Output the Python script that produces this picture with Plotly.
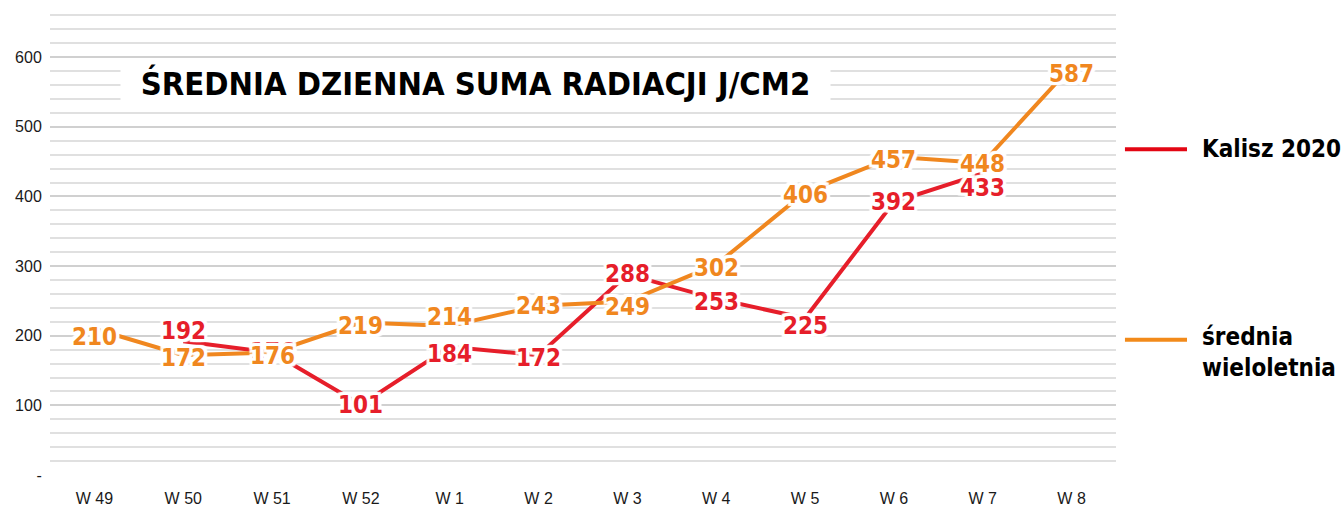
import plotly.graph_objects as go

weeks = ["W 49", "W 50", "W 51", "W 52", "W 1", "W 2", "W 3", "W 4", "W 5", "W 6", "W 7", "W 8"]
kalisz = [None, 192, 176, 101, 184, 172, 288, 253, 225, 392, 433, None]
srednia = [210, 172, 176, 219, 214, 243, 249, 302, 406, 457, 448, 587]
ytick_vals = [0, 100, 200, 300, 400, 500, 600]
ytick_text = ["-", "100", "200", "300", "400", "500", "600"]

# label nudges in pixels (positive = downwards), purely presentational
kalisz_nudge = [0, -10, 0, 0, 7, 3, 0, 3, 8, 0, 15, 0]
srednia_nudge = [8, 3, 4, 4, -9, 0, 5, 3, 3, 3, 1, 8]

RED = "#E61E2A"
ORANGE = "#F0871F"
COND = "DejaVu Sans Condensed, Liberation Sans Narrow, Roboto, sans-serif"
halo = ", ".join(f"{dx}px {dy}px 1px white" for dx in (-3, 0, 3) for dy in (-3, 0, 3)) + ", 0 0 4px white"

fig = go.Figure()
fig.add_trace(go.Scatter(x=weeks, y=kalisz, mode="lines", line=dict(color=RED, width=4),
                         connectgaps=False, showlegend=False, hoverinfo="skip"))
fig.add_trace(go.Scatter(x=weeks, y=srednia, mode="lines", line=dict(color=ORANGE, width=4),
                         showlegend=False, hoverinfo="skip"))

def add_labels(vals, nudges, color):
    for wk, v, n in zip(weeks, vals, nudges):
        if v is None:
            continue
        fig.add_annotation(x=wk, y=v, text=f"<b>{v}</b>", showarrow=False, xanchor="center",
                           yanchor="middle", yshift=-n,
                           font=dict(family=COND, size=24, color=color, shadow=halo))

add_labels(kalisz, kalisz_nudge, RED)
add_labels(srednia, srednia_nudge, ORANGE)

fig.update_layout(
    width=1344, height=506,
    margin=dict(l=50, r=228, t=14, b=31),
    paper_bgcolor="white", plot_bgcolor="white",
    font=dict(family="Liberation Sans, Arial, sans-serif", size=16, color="#1a1a1a"),
    xaxis=dict(type="category", range=[-0.5, 11.5], showgrid=False, zeroline=False, showline=False,
               automargin=False, ticks="outside", ticklen=9, tickcolor="rgba(0,0,0,0)",
               tickfont=dict(size=16)),
    yaxis=dict(range=[0, 662], tickvals=ytick_vals, ticktext=ytick_text, showgrid=True,
               gridcolor="#d0d0d0", gridwidth=2, zeroline=False, showline=False, automargin=False,
               ticks="outside", ticklen=4, tickcolor="rgba(0,0,0,0)", tickfont=dict(size=16),
               minor=dict(dtick=20, showgrid=True, gridcolor="#e0e0e0", gridwidth=1.5)),
)

fig.add_annotation(xref="paper", yref="paper", x=0.399, y=0.85, xanchor="center", yanchor="middle",
                   text="<b>ŚREDNIA DZIENNA SUMA RADIACJI J/CM2</b>", showarrow=False,
                   font=dict(family=COND, size=32.5, color="black"),
                   bgcolor="white", width=705, height=40, borderpad=2)

# legend
fig.add_shape(type="line", xref="paper", yref="paper", x0=1.0084, x1=1.0666, y0=0.7065, y1=0.7065,
              line=dict(color="#E30613", width=4))
fig.add_shape(type="line", xref="paper", yref="paper", x0=1.0084, x1=1.0666, y0=0.2935, y1=0.2935,
              line=dict(color="#F28A1A", width=4))
fig.add_annotation(xref="paper", yref="paper", x=1.0788, y=0.7065, xanchor="left", yanchor="middle",
                   text="<b>Kalisz 2020</b>", showarrow=False, align="left",
                   font=dict(family=COND, size=24, color="black"))
fig.add_annotation(xref="paper", yref="paper", x=1.0788, y=0.335, xanchor="left", yanchor="top",
                   text="<b>średnia<br>wieloletnia</b>", showarrow=False, align="left",
                   font=dict(family=COND, size=24, color="black"))

fig.write_html("out.html", config={"displayModeBar": False},
               post_script="document.body.style.margin='0';")
